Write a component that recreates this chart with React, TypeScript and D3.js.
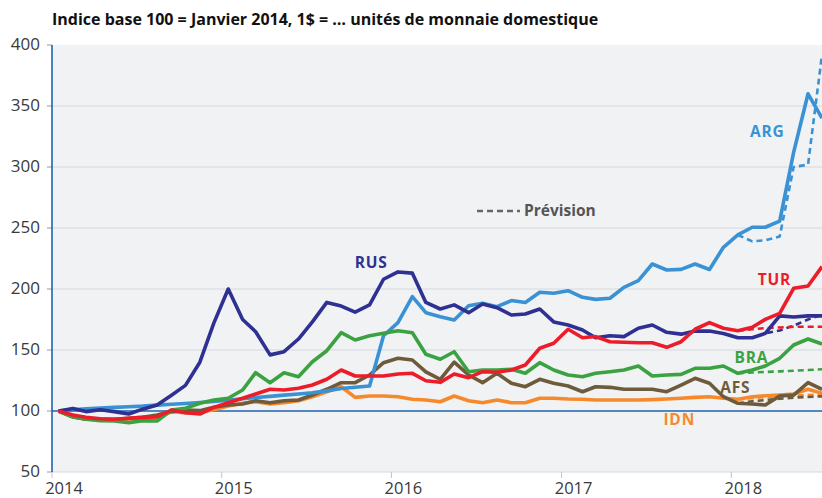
import React from "react";
import * as d3 from "d3";

const W = 822;
const H = 498;

// monthly points, Jan 2014 - Jul 2018 (drawn mid-month)
const months = d3.timeMonth
  .range(new Date(2014, 0, 1), new Date(2018, 7, 1))
  .map((d) => new Date(d.getFullYear(), d.getMonth(), 15));
const forecastMonths = months.slice(48);

const yearTicks = [2014, 2015, 2016, 2017, 2018];
const valueTicks = [50, 100, 150, 200, 250, 300, 350, 400];

const rus = [100, 102, 99.5, 101, 99.5, 97.5, 101.5, 105, 113, 121, 140, 172, 200, 175, 165, 146, 148.6, 159, 173, 189, 186, 181, 187, 208, 214, 213, 189, 183.6, 187, 180.6, 187.7, 184.7, 178.7, 179.5, 183.6, 173, 170.5, 166.4, 160, 161.7, 161, 167.8, 170.5, 164.5, 163, 165.5, 165.5, 163.6, 160, 160, 163.6, 178, 177, 178, 178];
const arg = [100, 101, 101.8, 102.5, 103, 103.5, 104, 104.8, 105.5, 106.2, 107, 107.8, 108.8, 110, 111, 112, 113, 114, 115, 116.5, 118.5, 119.5, 120.5, 161.7, 172.4, 193.7, 180.6, 177.3, 174.6, 186.3, 188.3, 185.5, 190.5, 189, 197.3, 196.5, 198.6, 193.2, 191.5, 192.4, 201.4, 206.8, 220.5, 215.6, 216.1, 220.5, 216, 234.2, 244.3, 250.6, 250.6, 255.7, 312, 360, 340];
const tur = [100, 96.7, 94.8, 93.7, 93.2, 94, 94.8, 95.3, 100.8, 98.6, 97.5, 103, 106.8, 110.4, 113.9, 117.8, 117.2, 118.6, 121.3, 126, 133.6, 128.7, 128.7, 128.7, 130.3, 130.9, 124.8, 123.5, 130.3, 127.3, 132.2, 131.7, 133.6, 137.7, 151.4, 155.5, 167, 160, 161, 156.8, 156.3, 156, 156, 152.2, 156.8, 167, 172.4, 167.8, 165.8, 168.6, 175.1, 180, 200.6, 202.5, 218.3];
const bra = [100, 95.3, 93.2, 92.1, 91.8, 90.4, 92.1, 91.8, 100.8, 102.2, 106.3, 109, 110.4, 117.2, 131.4, 123.2, 131.4, 128.1, 140.4, 149.4, 164.2, 158.2, 161.7, 163.7, 165.8, 164.2, 146.5, 142.4, 148.6, 132.2, 133.6, 133.6, 134.2, 130.9, 139.6, 133.6, 129.5, 128.1, 130.9, 132.2, 133.6, 136.9, 128.7, 129.5, 130, 135, 135, 136.9, 130.9, 133.6, 136.9, 143.2, 154.1, 159, 154.9];
const afs = [100, 95.3, 93.2, 93.2, 93.2, 94, 94.8, 96.7, 99.5, 100.8, 100.3, 103, 104.9, 105.7, 108.4, 106.8, 108.4, 109, 113.1, 117.8, 123.2, 123.2, 129.5, 139.6, 143.2, 141.8, 132, 126, 140, 129.5, 123.2, 130.9, 122.7, 119.9, 126, 122.7, 120.5, 115.8, 119.9, 119.4, 117.8, 117.8, 117.8, 115.8, 121.3, 126.8, 122.7, 111.7, 106.3, 105.7, 104.9, 112.3, 113.1, 123.2, 117.8];
const idn = [100, 95, 93.5, 92.8, 92.5, 92.5, 93, 94, 99.5, 98.5, 99, 101, 104.1, 106.3, 107.6, 105.7, 106.8, 108.4, 111.7, 115.8, 119.9, 111.2, 112.3, 112.3, 111.7, 109.6, 109, 107.6, 112.3, 108.4, 106.8, 109, 106.8, 106.8, 110.4, 110.4, 109.8, 109.6, 109, 109, 109, 109, 109.3, 109.8, 110.4, 111.2, 111.7, 110.4, 109.6, 111.7, 112.5, 113.1, 113.9, 117.8, 114.5];

// forecasts from Jan 2018
const rusF = [160, 160, 163.6, 166, 170, 175, 179];
const argF = [244.3, 239, 240, 243, 300, 302, 392];
const turF = [165.8, 167, 168, 168.5, 169, 169, 169];
const braF = [130.9, 131.5, 132, 132.5, 133, 133.6, 134.2];
const afsF = [106.3, 108, 109, 110, 111, 111.5, 112];
const idnF = [109.6, 110.5, 111.5, 112, 112.5, 113, 113.5];

const series = [
  { name: "IDN", values: idn, forecast: idnF, color: "#f6892c" },
  { name: "AFS", values: afs, forecast: afsF, color: "#6e5b3b" },
  { name: "ARG", values: arg, forecast: argF, color: "#3a92d4" },
  { name: "BRA", values: bra, forecast: braF, color: "#3ba242" },
  { name: "RUS", values: rus, forecast: rusF, color: "#2e3192" },
  { name: "TUR", values: tur, forecast: turF, color: "#ec1c2a" },
];

// label anchors (date, value)
const labels = [
  { name: "RUS", date: new Date(2015, 9, 14), value: 217, color: "#2e3192" },
  { name: "ARG", date: new Date(2018, 1, 10), value: 325, color: "#3a92d4" },
  { name: "TUR", date: new Date(2018, 1, 27), value: 203, color: "#ec1c2a" },
  { name: "BRA", date: new Date(2018, 0, 8), value: 139.5, color: "#3ba242" },
  { name: "AFS", date: new Date(2017, 11, 8), value: 115, color: "#6e5b3b" },
  { name: "IDN", date: new Date(2017, 7, 8), value: 88.5, color: "#f6892c" },
];

export default function App() {
  const x = d3.scaleTime().domain([new Date(2014, 0, 1), new Date(2018, 6, 15)]).range([52, 822]);
  const y = d3.scaleLinear().domain([50, 400]).range([472, 45]);

  const line = d3
    .line<number>()
    .x((d, i) => x(months[i]))
    .y((d) => y(d));
  const fLine = d3
    .line<number>()
    .x((d, i) => x(forecastMonths[i]))
    .y((d) => y(d));

  const font = "'Open Sans', 'Liberation Sans', sans-serif";

  return (
    <svg width={W} height={H} style={{ position: "absolute", left: 0, top: 0, background: "#fff" }} fontFamily={font}>
      <defs>
        <clipPath id="plot">
          <rect x={52} y={40} width={W - 52} height={432} />
        </clipPath>
      </defs>
      <text x={52} y={25} fontSize={16} fontWeight="bold" fill="#111">
        Indice base 100 = Janvier 2014, 1$ = … unités de monnaie domestique
      </text>

      <rect x={52} y={y(400)} width={W - 52} height={y(50) - y(400)} fill="#f1f2f4" />

      {valueTicks.map((v) => (
        <g key={v}>
          {v !== 100 && v !== 400 && (
            <line x1={52} x2={W} y1={y(v)} y2={y(v)} stroke="#d6d8dc" strokeWidth={1.2} />
          )}
          <line x1={47} x2={52} y1={y(v)} y2={y(v)} stroke="#9a9a9a" strokeWidth={1} />
          <text x={40} y={y(v) - 1} dy="0.35em" textAnchor="end" fontSize={17} fill="#3a3a3a">
            {v}
          </text>
        </g>
      ))}

      {yearTicks.map((yr) => {
        const tx = x(new Date(yr, 0, 1));
        return (
          <g key={yr}>
            <line x1={tx} x2={tx} y1={472} y2={478} stroke="#c4c4c4" strokeWidth={1} />
            <text x={tx + 12} y={494} textAnchor="middle" fontSize={16.5} fill="#3a3a3a">
              {yr}
            </text>
          </g>
        );
      })}

      <line x1={52} x2={W} y1={y(100)} y2={y(100)} stroke="#1e63b0" strokeWidth={1.6} />
      <line x1={52} x2={52} y1={y(400)} y2={y(50)} stroke="#1e63b0" strokeWidth={1.6} />

      <g clipPath="url(#plot)" fill="none" strokeLinejoin="round">
        {series.map((s) => (
          <path key={s.name + "f"} d={fLine(s.forecast) || ""} stroke={s.color} strokeWidth={2.6} strokeDasharray="6 4" />
        ))}
        {series.map((s) => (
          <path key={s.name} d={line(s.values) || ""} stroke={s.color} strokeWidth={3.6} />
        ))}
      </g>

      <line x1={477} x2={520} y1={211} y2={211} stroke="#666" strokeWidth={2.6} strokeDasharray="6 4" />
      <text x={524} y={216} fontSize={15.5} fontWeight="bold" fill="#555">
        Prévision
      </text>

      {labels.map((l) => (
        <text key={l.name} x={x(l.date)} y={y(l.value)} fontSize={15.5} fontWeight="bold" fill={l.color} letterSpacing={0.8}>
          {l.name}
        </text>
      ))}
    </svg>
  );
}
